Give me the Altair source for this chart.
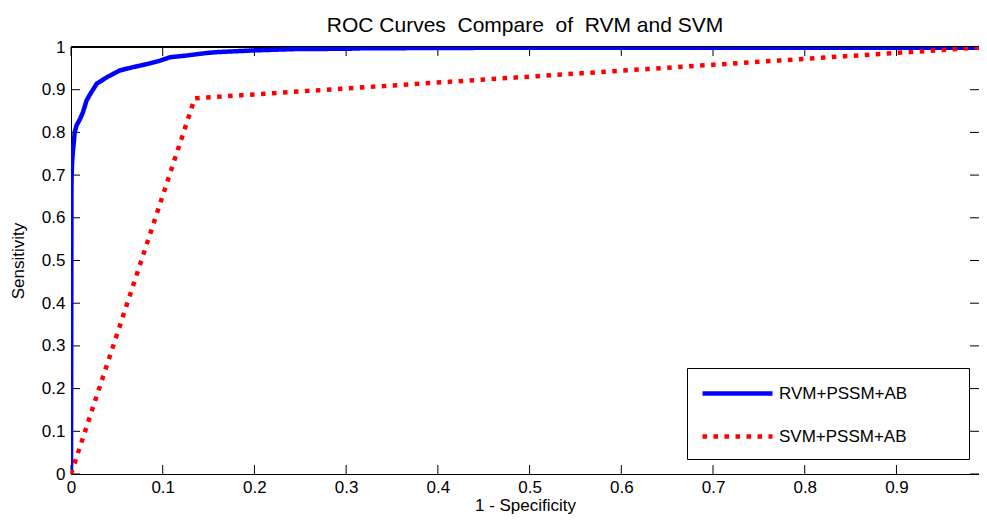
import altair as alt
import pandas as pd

# ---- data ----
series_names = ["RVM+PSSM+AB", "SVM+PSSM+AB"]

rvm_fpr = [0.0, 0.0005, 0.001, 0.0015, 0.002, 0.003, 0.004, 0.006, 0.010, 0.013,
           0.017, 0.021, 0.028, 0.039, 0.053, 0.068, 0.083, 0.097, 0.108, 0.126,
           0.148, 0.159, 0.199, 0.242, 0.304, 0.318, 0.446, 1.0]
rvm_tpr = [0.0, 0.68, 0.72, 0.74, 0.755, 0.775, 0.80, 0.816, 0.832, 0.847,
           0.875, 0.89, 0.914, 0.929, 0.945, 0.953, 0.96, 0.968, 0.976, 0.980,
           0.986, 0.988, 0.992, 0.995, 0.996, 0.997, 0.998, 0.998]

svm_fpr = [0.0, 0.135, 1.0]
svm_tpr = [0.0, 0.88, 1.0]

x_tick_labels = [0, 0.1, 0.2, 0.3, 0.4, 0.5, 0.6, 0.7, 0.8, 0.9]
y_ticks = [0, 0.1, 0.2, 0.3, 0.4, 0.5, 0.6, 0.7, 0.8, 0.9, 1.0]
x_visible_max = 0.99   # the reference image is cut just before x = 1

# ---- tables ----
rows = []
for i, (x, y) in enumerate(zip(rvm_fpr, rvm_tpr)):
    rows.append({"series": series_names[0], "fpr": x, "tpr": y, "idx": i})
for i, (x, y) in enumerate(zip(svm_fpr, svm_tpr)):
    rows.append({"series": series_names[1], "fpr": x, "tpr": y, "idx": i})
df = pd.DataFrame(rows)
xt = pd.DataFrame({"fpr": x_tick_labels})
yt = pd.DataFrame({"tpr": y_ticks})

W, H = 908, 427
TICK = 9
FONT = "Liberation Sans"

x_scale = alt.Scale(domain=[0, x_visible_max], nice=False, zero=False)
y_scale = alt.Scale(domain=[0, 1], nice=False, zero=False)

x_axis = alt.Axis(values=x_tick_labels, title="1 - Specificity", format="~g",
                  tickSize=0, labelPadding=5, titlePadding=2, domain=True,
                  labelFlush=False, labelOverlap=False,
                  domainColor="black", domainWidth=1,
                  grid=False, labelFont=FONT, labelFontSize=17, labelColor="black",
                  titleFont=FONT, titleFontSize=17, titleFontWeight="normal",
                  titleColor="black")
y_axis = alt.Axis(values=y_ticks, title="Sensitivity", format="~g",
                  tickSize=0, labelPadding=6, titlePadding=13.5, domain=True,
                  labelFlush=False, labelOverlap=False,
                  domainColor="black", domainWidth=1,
                  grid=False, labelFont=FONT, labelFontSize=17, labelColor="black",
                  titleFont=FONT, titleFontSize=17, titleFontWeight="normal",
                  titleColor="black")

blank = "\u2800"
legend = alt.Legend(
    title=None, orient="none", legendX=616, legendY=321,
    strokeColor="black", fillColor="white", padding=13, cornerRadius=0,
    symbolType="M-3.5,0H3.5", symbolSize=400, symbolStrokeWidth=4.5,
    symbolOffset=25, labelOffset=29, rowPadding=21,
    labelFont=FONT, labelFontSize=17, labelColor="black", labelLimit=400,
    labelExpr="datum.label + '" + blank * 4 + "'",
)

lines = alt.Chart(df).mark_line(strokeWidth=4.5, clip=True, strokeCap="butt").encode(
    x=alt.X("fpr:Q", scale=x_scale, axis=x_axis),
    y=alt.Y("tpr:Q", scale=y_scale, axis=y_axis),
    color=alt.Color("series:N", scale=alt.Scale(domain=series_names, range=["#0000ff", "#ff0000"]),
                    legend=legend),
    strokeDash=alt.StrokeDash("series:N",
                              scale=alt.Scale(domain=series_names, range=[[1, 0], [4.5, 6.5]]),
                              legend=legend),
    order="idx:Q",
)

tick_style = dict(color="black", strokeWidth=1)
bottom_ticks = alt.Chart(xt).mark_rule(**tick_style).encode(
    x=alt.X("fpr:Q", scale=x_scale, axis=x_axis), y=alt.value(H - TICK), y2=alt.value(H))
top_ticks = alt.Chart(xt).mark_rule(**tick_style).encode(
    x=alt.X("fpr:Q", scale=x_scale, axis=x_axis), y=alt.value(0), y2=alt.value(TICK))
left_ticks = alt.Chart(yt).mark_rule(**tick_style).encode(
    y=alt.Y("tpr:Q", scale=y_scale, axis=y_axis), x=alt.value(0), x2=alt.value(TICK))
right_ticks = alt.Chart(yt).mark_rule(**tick_style).encode(
    y=alt.Y("tpr:Q", scale=y_scale, axis=y_axis), x=alt.value(W - TICK), x2=alt.value(W))
top_border = alt.Chart(yt).mark_rule(**tick_style).encode(
    x=alt.value(0), x2=alt.value(W), y=alt.value(0))

nb = "\u00a0"
chart = alt.layer(bottom_ticks, top_ticks, left_ticks, right_ticks, top_border, lines).properties(
    width=W, height=H,
    title=alt.Title("ROC Curves" + nb + " Compare" + nb + " of" + nb + " RVM and SVM",
                    font=FONT, fontSize=21, fontWeight="normal", color="black",
                    anchor="middle", offset=2),
    padding={"left": 63, "top": 39, "right": 0, "bottom": 41},
    autosize=alt.AutoSizeParams(type="none"),
    background="white",
).configure_view(stroke=None)

chart.save("out.html", embed_options={"renderer": "svg", "actions": False})
